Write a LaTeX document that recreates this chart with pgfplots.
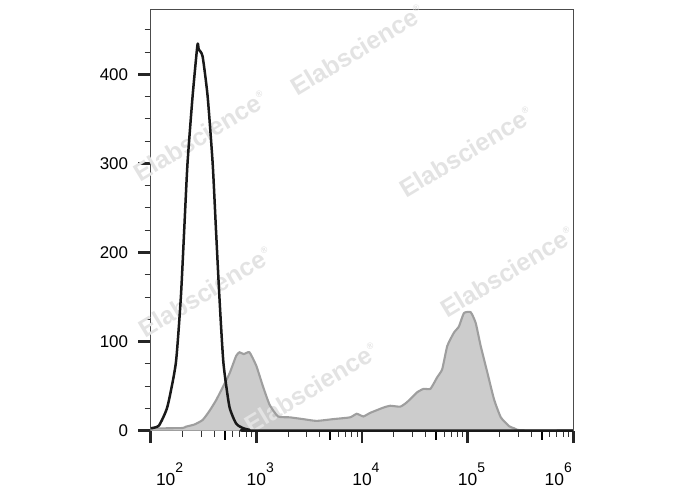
\documentclass[border=0pt]{standalone}
\usepackage{pgfplots}
\usepackage{pgfplotstable}
\pgfplotsset{compat=1.18}
\usepackage{fontspec}
\setmainfont{Liberation Sans}
\newcommand{\xl}[1]{\mbox{10\rlap{\raisebox{12.5bp}{\fontsize{14}{14}\selectfont #1}}}}
\newcommand{\wm}[2]{\node[rotate=31, text=black!11, font=\fontsize{25}{25}\selectfont\bfseries, inner sep=0pt] at (rel axis cs:#1,#2) {Elabscience\raisebox{11bp}{\fontsize{9}{9}\selectfont ®}};}
\pgfplotstableread{
x y
100 2.5
199 3
215 4.5
260 7
310 12
359 22
415 34
463 45
556 64
644 84
692 88
760 86
861 88
998 73
1153 50
1336 29
1603 16
2071 15
2770 13
3714 11
5345 13
7709 15
8918 19
10300 16
11930 20
15990 26
18490 28
23030 27
26660 32
33190 43
38370 47
44430 47
51490 60
57420 69
64100 95
74100 110
82670 117
92200 132
106800 133
119100 121
132900 95
153800 65
177900 35
206000 15
247200 5
276100 2.7
319200 0.5
1000000 0.5
}\graydata
\pgfplotstableread{
x y
100 3
103.5 3
120 6
144 27
173 76
193 150
207.5 225
223 300
249 375
277 433
285 428
310 420
346 375
386 300
415 225
447 150
488 76
556 27
644 8
745 3
861 1
1000 0
1000000 0
}\blackdata
\begin{document}
\begin{tikzpicture}
\path[use as bounding box] (0bp,0bp) rectangle (688bp,490bp);
\begin{axis}[
  at={(150.7bp,59.3bp)}, anchor=south west,
  scale only axis, width=422.6bp, height=421.4bp,
  xmode=log, xmin=100, xmax=1000000, ymin=0, ymax=473,
  /pgf/number format/assume math mode=true,
  axis line style={draw=black!70, line width=0.9bp},
  xtick pos=bottom, ytick pos=left, tick align=outside,
  xtick={100,1000,10000,100000,1000000},
  xticklabels={\hspace*{30bp}\xl{2}, \xl{3}, \xl{4}, \xl{5}, \xl{6}\hspace*{38bp}},
  extra x ticks={500,5000,50000,500000},
  extra x tick labels={},
  extra x tick style={major tick length=9bp, every major tick/.style={line width=2bp, black}},
  ytick={0,100,200,300,400},
  minor ytick={25,50,75,125,150,175,225,250,275,325,350,375,425,450},
  major tick length=12.5bp, minor tick length=6bp,
  every major tick/.style={line width=2.6bp, black!85},
  every minor tick/.style={line width=1bp, black!80},
  xticklabel style={font=\fontsize{17.5}{18}\selectfont, anchor=base, inner sep=0pt, yshift=-42bp},
  yticklabel style={font=\fontsize{17}{18}\selectfont, anchor=east, inner sep=0pt, xshift=-10bp},
  log ticks with fixed point=false,
  clip=false,
]
\addplot[fill=black!20, draw=none, smooth, tension=0.3] table {\graydata} \closedcycle;
\wm{0.1167}{0.6993}
\wm{0.4882}{0.9034}
\wm{0.7461}{0.6614}
\wm{0.1285}{0.3291}
\wm{0.3796}{0.1013}
\wm{0.8432}{0.3766}
\addplot[draw=black!38, line width=2.1bp, smooth, tension=0.3] table {\graydata};
\addplot[black!90, line width=2.5bp, line join=round, smooth, tension=0.35] table {\blackdata};
\end{axis}
\end{tikzpicture}
\end{document}
